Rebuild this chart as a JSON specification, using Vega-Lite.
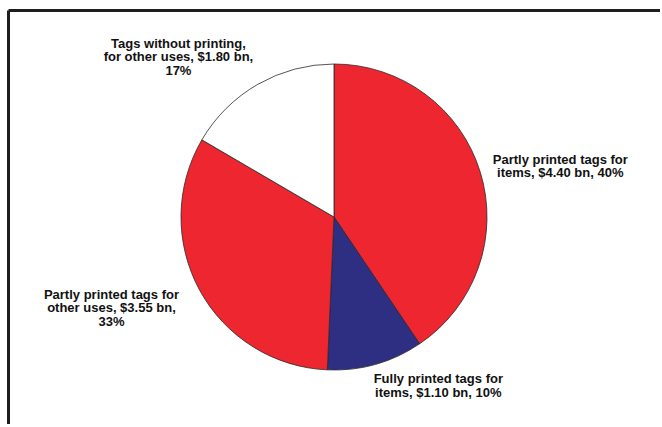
{
  "$schema": "https://vega.github.io/schema/vega-lite/v6.json",
  "width": 652,
  "height": 414,
  "autosize": {"type": "none"},
  "padding": {"left": 8, "top": 10, "right": 0, "bottom": 0},
  "background": "white",
  "config": {"view": {"stroke": null}},
  "data": {
    "values": [
      {"category": "Partly printed tags for items", "value": 4.40, "rank": 1, "label": "Partly printed tags for\nitems, $4.40 bn, 40%"},
      {"category": "Fully printed tags for items", "value": 1.10, "rank": 2, "label": "Fully printed tags for\nitems, $1.10 bn, 10%"},
      {"category": "Partly printed tags for other uses", "value": 3.55, "rank": 3, "label": "Partly printed tags for\nother uses, $3.55 bn,\n33%"},
      {"category": "Tags without printing, for other uses", "value": 1.80, "rank": 4, "label": "Tags without printing,\nfor other uses, $1.80 bn,\n17%"}
    ]
  },
  "layer": [
    {
      "mark": {"type": "point", "opacity": 0},
      "encoding": {
        "x": {"field": "value", "type": "quantitative", "axis": {"orient": "top", "labels": false, "ticks": false, "grid": false, "title": null, "domainColor": "#1e1e1e", "domainWidth": 3}},
        "y": {"field": "value", "type": "quantitative", "axis": {"orient": "left", "labels": false, "ticks": false, "grid": false, "title": null, "domainColor": "#1e1e1e", "domainWidth": 3}}
      }
    },
    {
      "mark": {"type": "arc", "outerRadius": 153, "stroke": "#2a2a2a", "strokeWidth": 0.8},
      "encoding": {
        "theta": {"field": "value", "type": "quantitative", "stack": true},
        "order": {"field": "rank", "type": "quantitative"},
        "color": {
          "field": "category",
          "type": "nominal",
          "scale": {
            "domain": ["Partly printed tags for items", "Fully printed tags for items", "Partly printed tags for other uses", "Tags without printing, for other uses"],
            "range": ["#ED2630", "#2E2F83", "#ED2630", "#FFFFFF"]
          },
          "legend": null
        }
      }
    },
    {
      "mark": {"type": "text", "radius": 200, "dx": 35, "dy": 1, "font": "Liberation Sans", "fontWeight": "bold", "fontSize": 13, "lineHeight": 13.5, "lineBreak": "\n", "color": "#111111", "align": "center", "baseline": "middle"},
      "encoding": {
        "theta": {"field": "value", "type": "quantitative", "stack": true},
        "order": {"field": "rank", "type": "quantitative"},
        "text": {"condition": {"test": "datum.rank == 1", "field": "label"}, "value": ""}
      }
    },
    {
      "mark": {"type": "text", "radius": 200, "dx": 50, "dy": -30, "font": "Liberation Sans", "fontWeight": "bold", "fontSize": 13, "lineHeight": 13.5, "lineBreak": "\n", "color": "#111111", "align": "center", "baseline": "middle"},
      "encoding": {
        "theta": {"field": "value", "type": "quantitative", "stack": true},
        "order": {"field": "rank", "type": "quantitative"},
        "text": {"condition": {"test": "datum.rank == 2", "field": "label"}, "value": ""}
      }
    },
    {
      "mark": {"type": "text", "radius": 200, "dx": -47, "dy": -18, "font": "Liberation Sans", "fontWeight": "bold", "fontSize": 13, "lineHeight": 13.5, "lineBreak": "\n", "color": "#111111", "align": "center", "baseline": "middle"},
      "encoding": {
        "theta": {"field": "value", "type": "quantitative", "stack": true},
        "order": {"field": "rank", "type": "quantitative"},
        "text": {"condition": {"test": "datum.rank == 3", "field": "label"}, "value": ""}
      }
    },
    {
      "mark": {"type": "text", "radius": 200, "dx": -56, "dy": 0, "font": "Liberation Sans", "fontWeight": "bold", "fontSize": 13, "lineHeight": 13.5, "lineBreak": "\n", "color": "#111111", "align": "center", "baseline": "middle"},
      "encoding": {
        "theta": {"field": "value", "type": "quantitative", "stack": true},
        "order": {"field": "rank", "type": "quantitative"},
        "text": {"condition": {"test": "datum.rank == 4", "field": "label"}, "value": ""}
      }
    }
  ]
}
